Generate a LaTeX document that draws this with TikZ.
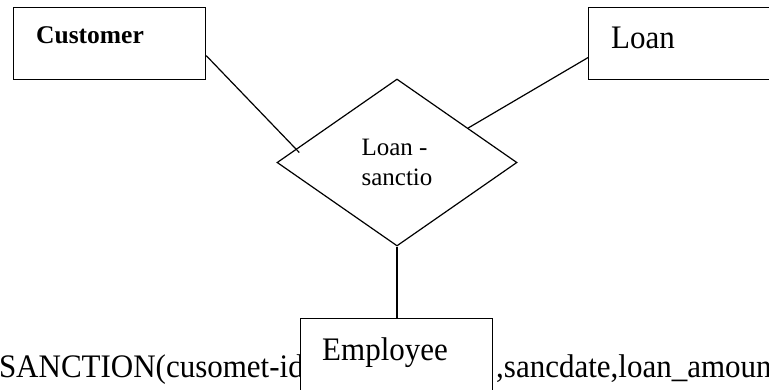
\documentclass[tikz,border=0pt]{standalone}
\usepackage{graphicx}
\usepackage{fontspec}
\setmainfont{Liberation Serif}
\usetikzlibrary{positioning, shapes.geometric, calc}

% slightly taller type, as in the scan
\newcommand{\tallish}[1]{\scalebox{1}[1.06]{#1}}

\begin{document}
\begin{tikzpicture}[
    x=1pt, y=-1pt,
    entity/.style={rectangle, draw=black, fill=white, line width=1.2pt, minimum width=192pt, minimum height=72pt, inner sep=0pt, anchor=north west},
    relation/.style={diamond, draw=black, fill=white, line width=1.2pt, minimum width=240pt, minimum height=167pt, inner sep=0pt, align=left, font=\fontsize{25}{30}\selectfont},
    link/.style={line width=1.2pt},
    lbl/.style={inner sep=0pt, anchor=base west, font=\fontsize{31}{36}\selectfont}
]
\useasboundingbox (0,0) rectangle (769,389);
\clip (0,0) rectangle (769,389);

% relation schema, partly hidden by the employee box
\node[lbl, anchor=base east] (schemaleft) at (304,377) {\tallish{SANCTION(cusomet-id}};
\node[lbl] (schemaright) at (496,377) {\tallish{,sancdate,loan\_amoun}};

% entities
\node[entity] (customer) at (13,7) {};
\node[entity] (loan) at (588,7) {};
\node[entity] (employee) at (300,318) {};
\node[lbl, font=\fontsize{25.5}{30}\selectfont\bfseries] (customername) at ([shift={(23,36)}]customer.north west) {Customer};
\node[lbl] (loanname) at ([shift={(23,41)}]loan.north west) {\tallish{Loan}};
\node[lbl] (employeename) at ([shift={(22,42)}]employee.north west) {\tallish{Employee}};

% relationship
\node[relation] (sanction) at (397,162.5) {Loan -\\sanctio};

% links
\draw[link] ([yshift=-12pt]customer.east) -- ($(sanction.west)!0.19!(sanction.north)+(0,6)$);
\draw[link] ([yshift=-14pt]loan.west) -- ($(sanction.north)!0.59!(sanction.east)$);
\draw[link] (sanction.south) -- (sanction.south |- employee.north);

\end{tikzpicture}
\end{document}
